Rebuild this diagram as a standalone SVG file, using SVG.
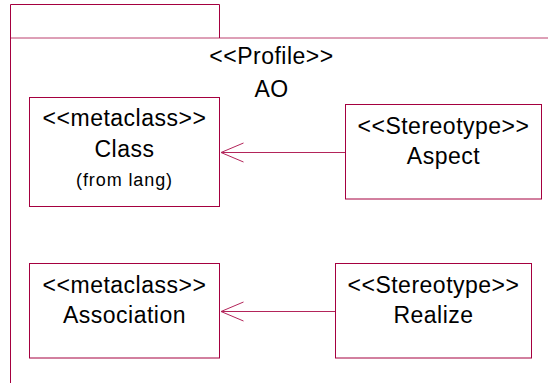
<svg xmlns="http://www.w3.org/2000/svg" width="548" height="383" viewBox="0 0 548 383">
<style>
.box{fill:#fff;stroke:#a5003f;stroke-width:1}
.frame{fill:none;stroke:#a5003f;stroke-width:1}
text{font-family:"Liberation Sans",Arial,sans-serif;fill:#000;text-anchor:middle}
.t{font-size:23px;letter-spacing:0.5px}
.s{font-size:18px;letter-spacing:0.9px}
.conn{fill:none;stroke:#b3245a;stroke-width:1}
</style>
<rect width="548" height="383" fill="#fff"/>
<g id="profile">
<path class="frame" d="M10.5,383 V4.5 H219.5 V38"/>
<path class="frame" d="M10.5,38 H548" stroke-opacity="0.75"/>
<text class="t" x="271.5" y="64">&lt;&lt;Profile&gt;&gt;</text>
<text class="t" x="271.5" y="96.5">AO</text>
</g>
<g id="class">
<rect class="box" x="29.5" y="97.5" width="190" height="109"/>
<text class="t" x="124.5" y="125.5">&lt;&lt;metaclass&gt;&gt;</text>
<text class="t" x="124.5" y="156.5">Class</text>
<text class="s" x="124.5" y="186">(from lang)</text>
</g>
<g id="aspect">
<rect class="box" x="345.5" y="104.5" width="196" height="94.5"/>
<text class="t" x="443.5" y="134">&lt;&lt;Stereotype&gt;&gt;</text>
<text class="t" x="443.5" y="164">Aspect</text>
</g>
<g id="association">
<rect class="box" x="29.5" y="263.5" width="190" height="94.5"/>
<text class="t" x="124.5" y="292.5">&lt;&lt;metaclass&gt;&gt;</text>
<text class="t" x="124.5" y="322.5">Association</text>
</g>
<g id="realize">
<rect class="box" x="335.5" y="263.5" width="196" height="94.5"/>
<text class="t" x="433.5" y="292.5">&lt;&lt;Stereotype&gt;&gt;</text>
<text class="t" x="433.5" y="322.5">Realize</text>
</g>
<g id="connectors">
<path class="conn" d="M345,152.5 H221"/>
<path class="conn" d="M243.5,143 L221,152.5 L243.5,162"/>
<path class="conn" d="M335,311.5 H221"/>
<path class="conn" d="M243.5,302 L221,311.5 L243.5,321"/>
</g>
</svg>
